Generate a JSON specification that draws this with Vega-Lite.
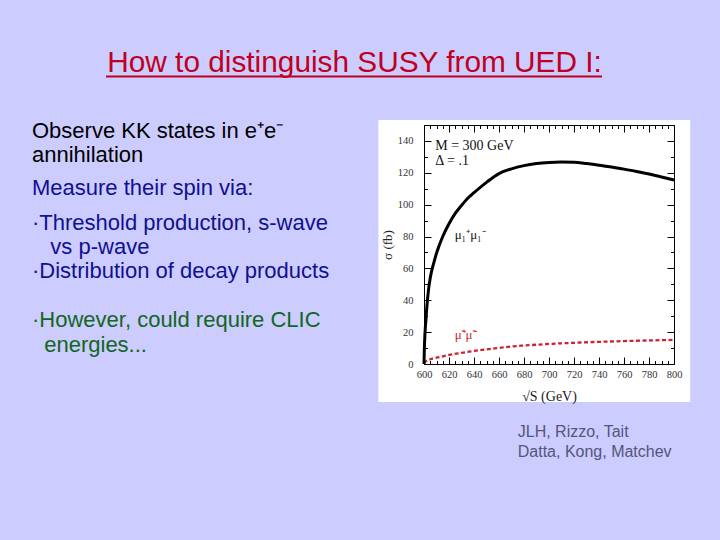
{
  "$schema": "https://vega.github.io/schema/vega-lite/v6.json",
  "background": "#ccccff",
  "padding": 0,
  "bounds": "flush",
  "spacing": 20,
  "config": {
    "view": {"stroke": null},
    "axis": {
      "grid": false,
      "domainColor": "#000000",
      "domainWidth": 1,
      "tickColor": "#000000",
      "tickWidth": 1,
      "labelFont": "Liberation Serif",
      "labelFontSize": 10.5,
      "labelColor": "#333333",
      "labelFlush": false,
      "labelOverlap": false,
      "titleFont": "Liberation Serif",
      "titleFontWeight": "normal",
      "titleColor": "#222222"
    }
  },
  "datasets": {
    "kk_muons": [
      {"sqrt_s": 600, "sigma": 0},
      {"sqrt_s": 600.3, "sigma": 10},
      {"sqrt_s": 600.7, "sigma": 18},
      {"sqrt_s": 601, "sigma": 22},
      {"sqrt_s": 601.5, "sigma": 27},
      {"sqrt_s": 602, "sigma": 33},
      {"sqrt_s": 603, "sigma": 42},
      {"sqrt_s": 604, "sigma": 49},
      {"sqrt_s": 605, "sigma": 54},
      {"sqrt_s": 606, "sigma": 58},
      {"sqrt_s": 608, "sigma": 64},
      {"sqrt_s": 610, "sigma": 69.5},
      {"sqrt_s": 612, "sigma": 74},
      {"sqrt_s": 615, "sigma": 80},
      {"sqrt_s": 620, "sigma": 88},
      {"sqrt_s": 625, "sigma": 94.5},
      {"sqrt_s": 630, "sigma": 99.5},
      {"sqrt_s": 635, "sigma": 104},
      {"sqrt_s": 640, "sigma": 107.5},
      {"sqrt_s": 650, "sigma": 114},
      {"sqrt_s": 660, "sigma": 119.5},
      {"sqrt_s": 670, "sigma": 122.5},
      {"sqrt_s": 680, "sigma": 124.5},
      {"sqrt_s": 690, "sigma": 125.8},
      {"sqrt_s": 700, "sigma": 126.5},
      {"sqrt_s": 710, "sigma": 126.8},
      {"sqrt_s": 720, "sigma": 126.6},
      {"sqrt_s": 730, "sigma": 125.8},
      {"sqrt_s": 740, "sigma": 124.8},
      {"sqrt_s": 750, "sigma": 123.6},
      {"sqrt_s": 760, "sigma": 122.3},
      {"sqrt_s": 770, "sigma": 120.8},
      {"sqrt_s": 780, "sigma": 119.2},
      {"sqrt_s": 790, "sigma": 117.4},
      {"sqrt_s": 800, "sigma": 115.5}
    ],
    "smuons": [
      {"sqrt_s": 600, "sigma": 0.5},
      {"sqrt_s": 602, "sigma": 2},
      {"sqrt_s": 605, "sigma": 3},
      {"sqrt_s": 610, "sigma": 4},
      {"sqrt_s": 615, "sigma": 4.8},
      {"sqrt_s": 620, "sigma": 5.7},
      {"sqrt_s": 630, "sigma": 7},
      {"sqrt_s": 640, "sigma": 8.2},
      {"sqrt_s": 650, "sigma": 9.2},
      {"sqrt_s": 660, "sigma": 10.1},
      {"sqrt_s": 670, "sigma": 11},
      {"sqrt_s": 680, "sigma": 11.6},
      {"sqrt_s": 690, "sigma": 12.1},
      {"sqrt_s": 700, "sigma": 12.6},
      {"sqrt_s": 720, "sigma": 13.3},
      {"sqrt_s": 740, "sigma": 13.9},
      {"sqrt_s": 760, "sigma": 14.4},
      {"sqrt_s": 780, "sigma": 14.8},
      {"sqrt_s": 800, "sigma": 15.1}
    ],
    "slide_text": [
      {"line": 0, "kind": "statement", "text": "Observe KK states in e⁺e⁻"},
      {"line": 1, "kind": "statement", "text": "annihilation"},
      {"line": 2.35, "kind": "method", "text": "Measure their spin via:"},
      {"line": 3.75, "kind": "method", "text": "·Threshold production, s-wave"},
      {"line": 4.75, "kind": "method", "text": "\u200b\u00a0\u00a0\u00a0vs p-wave"},
      {"line": 5.75, "kind": "method", "text": "·Distribution of decay products"},
      {"line": 7.75, "kind": "caveat", "text": "·However, could require CLIC"},
      {"line": 8.75, "kind": "caveat", "text": "\u200b\u00a0\u00a0energies..."}
    ]
  },
  "vconcat": [
    {
      "width": 720,
      "height": 105,
      "view": {"fill": "#ccccff", "stroke": null},
      "data": {"values": [{"heading": "How to distinguish SUSY from UED I:"}]},
      "layer": [
        {
          "mark": {"type": "text", "font": "Liberation Sans", "fontSize": 29.8, "color": "#c00020", "align": "center", "baseline": "alphabetic"},
          "encoding": {
            "text": {"field": "heading"},
            "x": {"datum": 0.4924, "type": "quantitative", "scale": {"domain": [0, 1]}, "axis": null},
            "y": {"datum": 0.6857, "type": "quantitative", "scale": {"domain": [0, 1], "reverse": true}, "axis": null}
          }
        },
        {
          "mark": {"type": "rule", "color": "#c00020", "strokeWidth": 2},
          "encoding": {
            "x": {"datum": 0.1472, "type": "quantitative", "scale": {"domain": [0, 1]}, "axis": null},
            "x2": {"datum": 0.8361},
            "y": {"datum": 0.7286, "type": "quantitative", "scale": {"domain": [0, 1], "reverse": true}, "axis": null}
          }
        }
      ]
    },
    {
      "bounds": "flush",
      "spacing": 20,
      "hconcat": [
        {
          "width": 404,
          "height": 415,
          "view": {"fill": "#ccccff", "stroke": null},
          "data": {"name": "slide_text"},
          "mark": {"type": "text", "align": "left", "baseline": "middle", "font": "Liberation Sans", "fontSize": 22},
          "encoding": {
            "text": {"field": "text"},
            "x": {"datum": 0.0792, "type": "quantitative", "scale": {"domain": [0, 1]}, "axis": null},
            "y": {"field": "line", "type": "quantitative", "scale": {"domain": [-0.25, 16.765], "reverse": true}, "axis": null},
            "color": {"field": "kind", "type": "nominal", "scale": {"domain": ["statement", "method", "caveat"], "range": ["#000000", "#101090", "#116622"]}, "legend": null}
          }
        },
        {
          "width": 250,
          "height": 239,
          "layer": [
            {
              "data": {"values": [{}]},
              "mark": {"type": "rect", "color": "#ffffff", "clip": false},
              "encoding": {
                "x": {"datum": 563.5, "type": "quantitative", "scale": {"domain": [600, 800], "nice": false, "zero": false}, "axis": null},
                "x2": {"datum": 813},
                "y": {"datum": 153.1, "type": "quantitative", "scale": {"domain": [0, 150], "nice": false}, "axis": null},
                "y2": {"datum": -23.8}
              }
            },
            {
              "data": {"name": "smuons"},
              "mark": {"type": "line", "color": "#cc2233", "strokeWidth": 2.3, "strokeDash": [4, 2.5], "interpolate": "monotone"},
              "encoding": {
                "x": {"field": "sqrt_s", "type": "quantitative", "axis": {"orient": "top", "zindex": 1, "labels": false, "title": null, "values": [600,605,610,615,620,625,630,635,640,645,650,655,660,665,670,675,680,685,690,695,700,705,710,715,720,725,730,735,740,745,750,755,760,765,770,775,780,785,790,795,800], "tickSize": {"condition": {"test": "datum.value % 20 === 0", "value": -7}, "value": -3.5}}},
                "y": {"field": "sigma", "type": "quantitative", "axis": {"orient": "right", "zindex": 1, "labels": false, "title": null, "values": [0,10,20,30,40,50,60,70,80,90,100,110,120,130,140,150], "tickSize": {"condition": {"test": "datum.value % 20 === 0", "value": -7}, "value": -3.5}}}
              }
            },
            {
              "data": {"name": "kk_muons"},
              "mark": {"type": "line", "color": "#000000", "strokeWidth": 3, "interpolate": "monotone"},
              "encoding": {
                "x": {"field": "sqrt_s", "type": "quantitative", "axis": {"orient": "bottom", "zindex": 1, "title": "√S (GeV)", "titleFontSize": 14, "titlePadding": 6, "labelPadding": 12, "labelExpr": "datum.value % 20 === 0 ? datum.label : ''", "values": [600,605,610,615,620,625,630,635,640,645,650,655,660,665,670,675,680,685,690,695,700,705,710,715,720,725,730,735,740,745,750,755,760,765,770,775,780,785,790,795,800], "tickSize": {"condition": {"test": "datum.value % 20 === 0", "value": -7}, "value": -3.5}}},
                "y": {"field": "sigma", "type": "quantitative", "axis": {"orient": "left", "zindex": 1, "title": "σ (fb)", "titleFontSize": 13, "titlePadding": 3, "labelPadding": 18, "labelExpr": "datum.value % 20 === 0 && datum.value <= 140 ? datum.label : ''", "values": [0,10,20,30,40,50,60,70,80,90,100,110,120,130,140,150], "tickSize": {"condition": {"test": "datum.value % 20 === 0", "value": -7}, "value": -3.5}}}
              }
            },
            {
              "data": {"values": [{}]},
              "mark": {"type": "text", "text": "M = 300 GeV", "font": "Liberation Serif", "fontSize": 14, "align": "left", "baseline": "middle", "color": "#111111"},
              "encoding": {
                "x": {"datum": 609, "type": "quantitative", "axis": null},
                "y": {"datum": 136.8, "type": "quantitative", "axis": null}
              }
            },
            {
              "data": {"values": [{}]},
              "mark": {"type": "text", "text": "Δ = .1", "font": "Liberation Serif", "fontSize": 14, "align": "left", "baseline": "middle", "color": "#111111"},
              "encoding": {
                "x": {"datum": 609, "type": "quantitative", "axis": null},
                "y": {"datum": 127.4, "type": "quantitative", "axis": null}
              }
            },
            {
              "data": {"values": [{}]},
              "mark": {"type": "text", "text": "μ₁⁺μ₁⁻", "font": "Liberation Serif", "fontSize": 13, "align": "left", "baseline": "middle", "color": "#111111"},
              "encoding": {
                "x": {"datum": 624.5, "type": "quantitative", "axis": null},
                "y": {"datum": 81, "type": "quantitative", "axis": null}
              }
            },
            {
              "data": {"values": [{}]},
              "mark": {"type": "text", "text": "μ̃⁺μ̃⁻", "font": "Liberation Serif", "fontSize": 13, "align": "left", "baseline": "middle", "color": "#cc2233"},
              "encoding": {
                "x": {"datum": 624.5, "type": "quantitative", "axis": null},
                "y": {"datum": 18, "type": "quantitative", "axis": null}
              }
            },
            {
              "data": {"values": [{}]},
              "mark": {"type": "text", "text": ["JLH, Rizzo, Tait", "Datta, Kong, Matchev"], "lineHeight": 20, "font": "Liberation Sans", "fontSize": 16, "align": "left", "baseline": "middle", "color": "#55557a", "clip": false},
              "encoding": {
                "x": {"datum": 675, "type": "quantitative", "axis": null},
                "y": {"datum": -42.7, "type": "quantitative", "axis": null}
              }
            }
          ]
        }
      ]
    }
  ]
}
